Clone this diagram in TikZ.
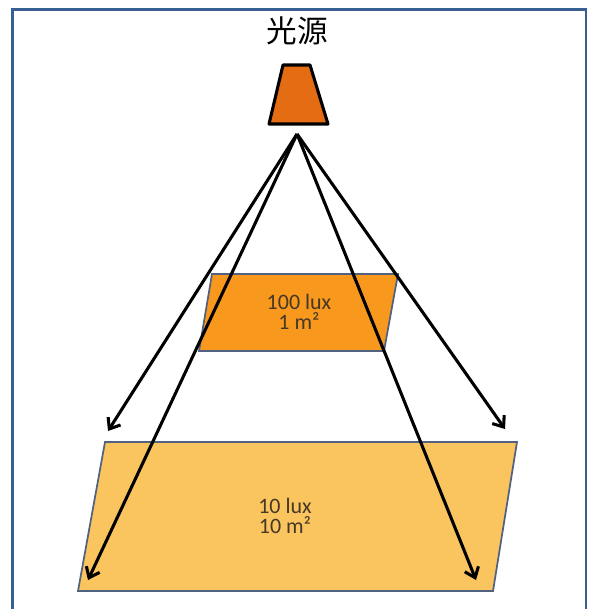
\documentclass[tikz,border=0pt]{standalone}
\usepackage{fontspec}
\setmainfont{Carlito}
\newfontfamily\cjk{Noto Sans CJK SC}
\usetikzlibrary{arrows.meta}
\usetikzlibrary{positioning}

\definecolor{frameblue}{RGB}{55,96,146}
\definecolor{lampfill}{RGB}{228,108,18}
\definecolor{nearfill}{RGB}{248,152,28}
\definecolor{farfill}{RGB}{250,196,95}
\definecolor{planeedge}{RGB}{80,98,128}
\definecolor{luxtext}{RGB}{70,56,40}

\begin{document}
\begin{tikzpicture}[x=0.75pt,y=-0.75pt,
    ray/.style={line width=2.3pt,-{Straight Barb[length=7pt,width=11pt]}},
    plane/.style={draw=planeedge,line width=1.3pt},
    luxlabel/.style={text=luxtext,align=center,font=\fontsize{16.5}{15}\selectfont}]

    \useasboundingbox (0,0) rectangle (590,609);

    % frame
    \draw [frameblue,line width=1.8pt] (12.5,615) -- (12.5,9.5) -- (586,9.5) -- (586,615);

    % light source
    \node (title) at (297,31) {\cjk\fontsize{23}{23}\selectfont 光源};
    \draw [fill=lampfill,line width=2.3pt,line join=round]
        (283,65) -- (310,65) -- (328,124) -- (269,124) -- cycle;

    % lit planes
    \draw [plane,fill=farfill] (105,442) -- (517,442) -- (493,591) -- (78,591) -- cycle;
    \draw [plane,fill=nearfill] (212,274) -- (398,274) -- (384,351) -- (199,351) -- cycle;

    \node [luxlabel] (near) at (299,312) {100 lux\\1 m²};
    \node [luxlabel] (far) at (285,516) {10 lux\\10 m²};

    % rays
    \coordinate (apex) at (297,134);
    \coordinate (nearleft) at (108,431);
    \coordinate (nearright) at (505,429);
    \coordinate (farleft) at (88,580);
    \coordinate (farright) at (476,580);
    \foreach \tip in {nearleft,nearright,farleft,farright}
        \draw [ray] (apex) -- (\tip);
\end{tikzpicture}
\end{document}
